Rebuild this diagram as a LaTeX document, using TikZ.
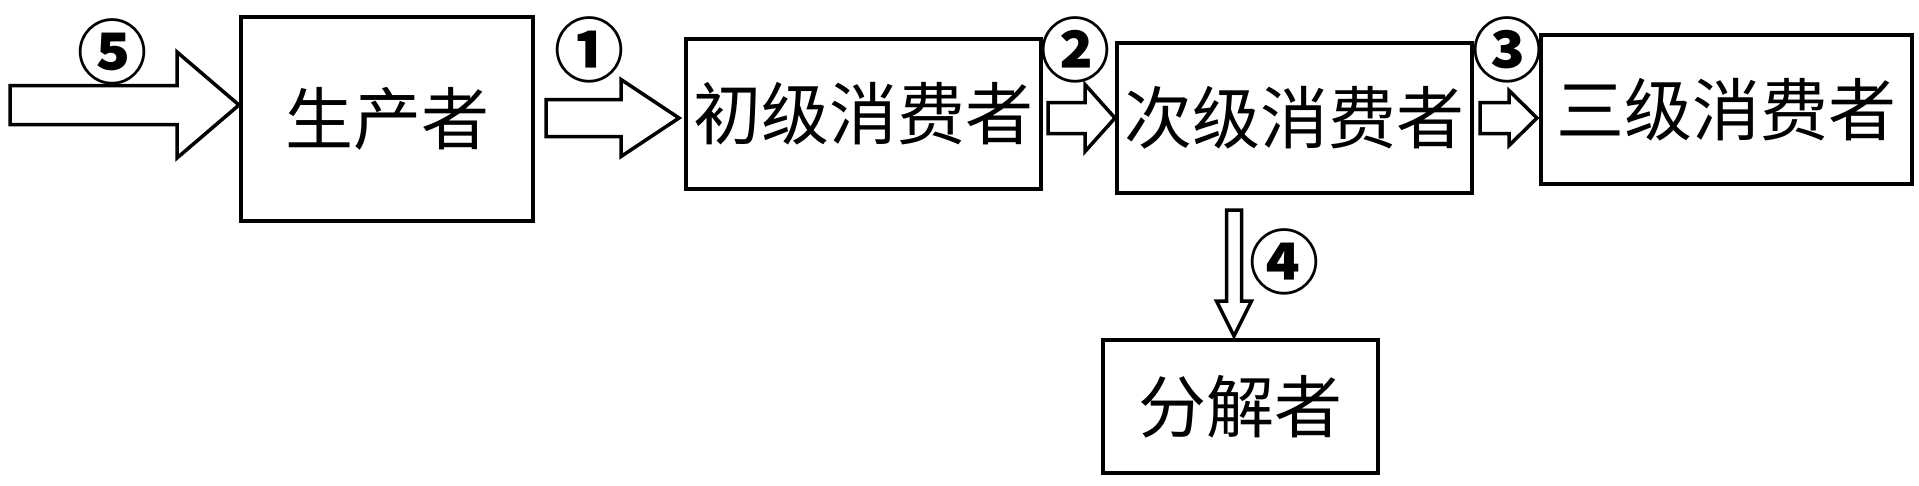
\documentclass[tikz,border=0pt]{standalone}
\usepackage{fontspec}
\newfontfamily\cjk{Noto Sans CJK SC}
\usetikzlibrary{calc}
\begin{document}
\begin{tikzpicture}[x=1pt,y=-1pt,
  box/.style={draw,line width=4pt,inner sep=0pt,font=\cjk\fontsize{68}{68}\selectfont},
  num/.style={inner sep=0pt,font=\cjk\bfseries\fontsize{70}{70}\selectfont},
  barrow/.style={draw,line width=3.5pt,line join=miter,fill=white}]
\useasboundingbox (0,0) rectangle (1919,485);
\node[box,minimum width=292pt,minimum height=204pt] (p) at (387,119) {生产者};
\node[box,minimum width=355pt,minimum height=150pt] (c1) at (863.5,114) {初级消费者};
\node[box,minimum width=355pt,minimum height=150pt] (c2) at (1294.5,118) {次级消费者};
\node[box,minimum width=371pt,minimum height=149pt] (c3) at (1726.5,109.5) {三级消费者};
\node[box,minimum width=275pt,minimum height=133pt] (d) at (1240.5,406.5) {分解者};
\node[num] (n5) at (112,52) {⑤};
\node[num] (n1) at (589,50) {①};
\node[num] (n2) at (1075,50) {②};
\node[num] (n3) at (1507,50) {③};
\node[num] (n4) at (1284,262) {④};
\coordinate (src) at (10,105);
% arrow 5
\draw[barrow] let \p1=(src), \p2=($(p.west)+(0,-14)$) in
  (\x1,\y2+19.5) -- (\x2-62,\y2+19.5) -- (\x2-62,\y2+53) -- (\x2,\y2) -- (\x2-62,\y2-53) -- (\x2-62,\y2-19.5) -- (\x1,\y2-19.5) -- cycle;
% arrow 1
\draw[barrow] let \p1=($(p.east)+(11,0)$), \p2=($(c1.west)+(-5,4)$) in
  (\x1,\y2+18.5) -- (\x2-58,\y2+18.5) -- (\x2-58,\y2+38.5) -- (\x2,\y2) -- (\x2-58,\y2-38.5) -- (\x2-58,\y2-18.5) -- (\x1,\y2-18.5) -- cycle;
% arrow 2
\draw[barrow] let \p1=($(c1.east)+(5,0)$), \p2=($(c2.west)+(0,0)$) in
  (\x1,\y2+15.5) -- (\x2-30,\y2+15.5) -- (\x2-30,\y2+33.5) -- (\x2,\y2) -- (\x2-30,\y2-33.5) -- (\x2-30,\y2-15.5) -- (\x1,\y2-15.5) -- cycle;
% arrow 3
\draw[barrow] let \p1=($(c2.east)+(6,0)$), \p2=($(c3.west)+(-2,8.5)$) in
  (\x1,\y2+15.5) -- (\x2-28,\y2+15.5) -- (\x2-28,\y2+27.5) -- (\x2,\y2) -- (\x2-28,\y2-27.5) -- (\x2-28,\y2-15.5) -- (\x1,\y2-15.5) -- cycle;
% arrow 4
\draw[barrow] let \p1=($(c2.south)+(-60.5,15)$), \p2=($(d.north)+(-6.5,-2)$) in
  (\x2-7.5,\y1) -- (\x2-7.5,\y2+35) -- (\x2-17.5,\y2+35) -- (\x2,\y2) -- (\x2+17.5,\y2+35) -- (\x2+7.5,\y2+35) -- (\x2+7.5,\y1) -- cycle;
\end{tikzpicture}
\end{document}
